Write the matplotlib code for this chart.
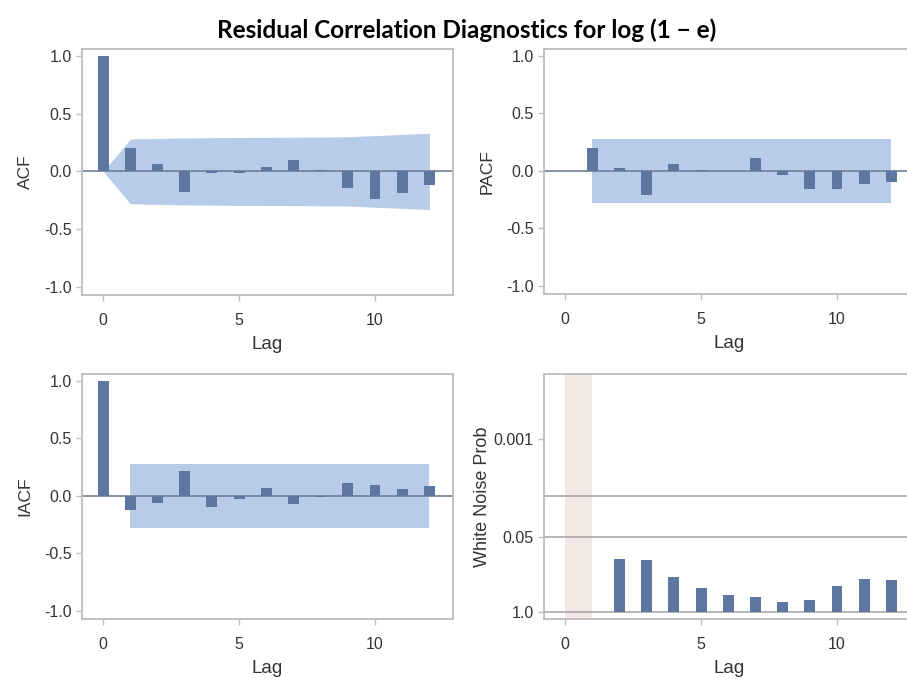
import numpy as np
import matplotlib
matplotlib.use("Agg")
import matplotlib.pyplot as plt

# ---------------- data ----------------
lags = list(range(0, 13))
acf = [1.0, 0.20, 0.066, -0.18, -0.015, -0.012, 0.038, 0.10, 0.012, -0.14, -0.24, -0.19, -0.115]
acf_band = [0.0, 0.28, 0.285, 0.29, 0.292, 0.294, 0.295, 0.296, 0.298, 0.30, 0.31, 0.32, 0.33]

pacf_lags = list(range(1, 13))
pacf = [0.20, 0.023, -0.21, 0.06, 0.004, 0.003, 0.11, -0.035, -0.16, -0.16, -0.11, -0.10]
pacf_band = 0.28

iacf = [1.0, -0.125, -0.064, 0.22, -0.093, -0.023, 0.072, -0.072, -0.01, 0.116, 0.095, 0.064, 0.087]
iacf_lags = lags
iacf_band = 0.28

wn_lags = list(range(2, 13))
wn_prob = [0.124, 0.127, 0.247, 0.384, 0.521, 0.564, 0.679, 0.628, 0.364, 0.272, 0.286]
wn_ticks = [1.0, 0.05, 0.001]
wn_tick_labels = ["1.0", "0.05", "0.001"]
wn_ref = [0.05, 0.01]

corr_ticks = [-1.0, -0.5, 0.0, 0.5, 1.0]
corr_tick_labels = ["-1.0", "-0.5", "0.0", "0.5", "1.0"]
x_ticks = [0, 5, 10]

title = "Residual Correlation Diagnostics for log (1 \u2212 e)"

# ---------------- style ----------------
BAR = "#5E77A0"
BAND = "#B7CCE8"
FRAME = "#BDBDBD"
ZERO = "#6E7F95"
TXT = "#333333"
PINK = "#F2E8E4"

plt.rcParams["font.family"] = ["Liberation Sans", "DejaVu Sans"]

fig = plt.figure(figsize=(9.07, 6.79), dpi=100)

W, H = 907.0, 679.0
def rect(l, t, r, b):
    return [l / W, (H - b) / H, (r - l) / W, (b - t) / H]

ax_tl = fig.add_axes(rect(82, 49, 453, 295))
ax_tr = fig.add_axes(rect(544, 49, 915, 294))
ax_bl = fig.add_axes(rect(82, 374, 453, 619))
ax_br = fig.add_axes(rect(544, 374, 915, 619))

XLIM = (-0.78, 12.87)
YLIM = (-1.07, 1.06)
BW = 0.4

def style(ax):
    for s in ax.spines.values():
        s.set_color(FRAME)
        s.set_linewidth(1.3)
    ax.tick_params(axis="both", colors=FRAME, labelcolor=TXT, labelsize=11.5, length=4, width=1)
    ax.tick_params(axis="x", pad=9)
    ax.set_xlim(*XLIM)
    ax.set_xticks(x_ticks)
    ax.set_xlabel("Lag", fontsize=13.5, color=TXT, labelpad=6)

def corr_axis(ax, label):
    style(ax)
    ax.set_ylim(*YLIM)
    ax.set_yticks(corr_ticks)
    ax.set_yticklabels(corr_tick_labels)
    ax.set_ylabel(label, fontsize=12.5, color=TXT, labelpad=8)
    ax.axhline(0, color=ZERO, lw=1.2, zorder=2)

# ACF
corr_axis(ax_tl, "ACF")
ax_tl.fill_between(lags, [-b for b in acf_band], acf_band, color=BAND, lw=0, zorder=1)
ax_tl.bar(lags, acf, width=BW, color=BAR, zorder=3)

# PACF
corr_axis(ax_tr, "PACF")
ax_tr.fill_between([pacf_lags[0], pacf_lags[-1]], -pacf_band, pacf_band, color=BAND, lw=0, zorder=1)
ax_tr.bar(pacf_lags, pacf, width=BW, color=BAR, zorder=3)

# IACF
corr_axis(ax_bl, "IACF")
ax_bl.fill_between([1, 12], -iacf_band, iacf_band, color=BAND, lw=0, zorder=1)
ax_bl.bar(iacf_lags, iacf, width=BW, color=BAR, zorder=3)

# White noise
style(ax_br)
wn_h = [-np.log10(p) for p in wn_prob]
ax_br.set_ylim(-0.127, 4.12)
ax_br.set_yticks([-np.log10(t) for t in wn_ticks])
ax_br.set_yticklabels(wn_tick_labels)
ax_br.set_ylabel("White Noise Prob", fontsize=13, color=TXT, labelpad=2)
ax_br.axvspan(0, 1, color=PINK, lw=0, zorder=1)
for r in wn_ref:
    ax_br.axhline(-np.log10(r), color="#A8A8A8", lw=1.2, zorder=2)
ax_br.axhline(0, color="#A8A8A8", lw=1.2, zorder=2)
ax_br.bar(wn_lags, wn_h, width=BW, color=BAR, zorder=3)

fig.text(467 / W, 1 - 30 / H, title, ha="center", va="center", fontsize=17.5,
         fontweight="bold", family=["Lato", "DejaVu Sans"], color="black")

fig.savefig("out.png", dpi=100)
